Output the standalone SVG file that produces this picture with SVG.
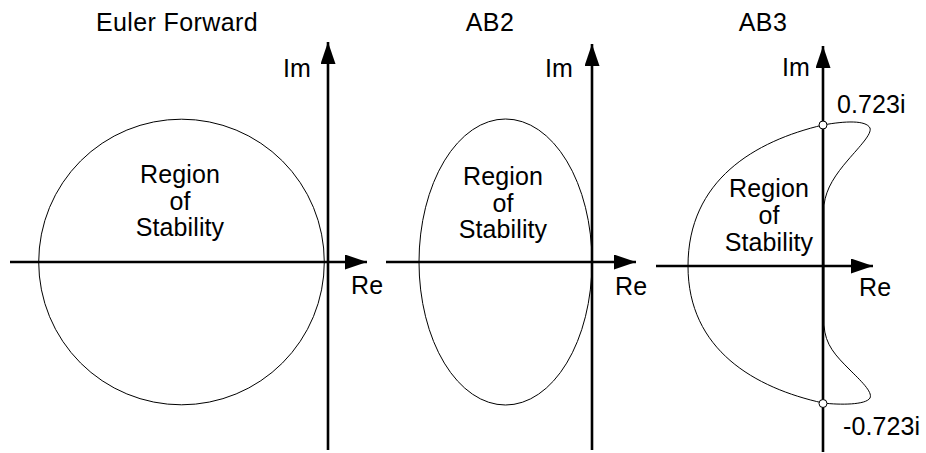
<svg xmlns="http://www.w3.org/2000/svg" width="926" height="453" viewBox="0 0 926 453">
<defs>
<style>
text{font-family:"Liberation Sans",Arial,sans-serif;font-size:25px;fill:#000;letter-spacing:0.1px}
.t{text-anchor:middle}
.title{letter-spacing:0.4px}
.axis{stroke:#000;stroke-width:2.6;fill:none}
.curve{stroke:#000;stroke-width:1;fill:none}
.dot{fill:#fff;stroke:#000;stroke-width:1}
</style>
<marker id="ah" markerUnits="userSpaceOnUse" markerWidth="24" markerHeight="16" refX="22" refY="7.5" orient="auto">
<path d="M0,0 L22,7.5 L0,15 Z" fill="#000"/>
</marker>
</defs>
<rect width="926" height="453" fill="#fff"/>

<g id="euler">
<text class="t title" x="177" y="31">Euler Forward</text>
<circle class="curve" cx="181.5" cy="262" r="142.8"/>
<g class="axes">
<line class="axis" x1="10" y1="262" x2="367" y2="262" marker-end="url(#ah)"/>
<line class="axis" x1="328" y1="450" x2="328" y2="42" marker-end="url(#ah)"/>
</g>
<text x="283" y="77">Im</text>
<text x="351" y="294">Re</text>
<text class="t" x="180" y="183">Region</text>
<text class="t" x="180" y="209.5">of</text>
<text class="t" x="180" y="236">Stability</text>
</g>

<g id="ab2">
<text class="t title" x="490" y="31">AB2</text>
<ellipse class="curve" cx="505.5" cy="262" rx="86.5" ry="143"/>
<g class="axes">
<line class="axis" x1="386" y1="262" x2="636" y2="262" marker-end="url(#ah)"/>
<line class="axis" x1="592" y1="450" x2="592" y2="44" marker-end="url(#ah)"/>
</g>
<text x="545" y="77">Im</text>
<text x="615" y="295">Re</text>
<text class="t" x="503" y="185">Region</text>
<text class="t" x="503" y="211.5">of</text>
<text class="t" x="503" y="238">Stability</text>
</g>

<g id="ab3">
<text class="t title" x="763" y="31">AB3</text>
<path class="curve" d="M823,125 C755,141 688,180 688,266 C688,350 755,388 823,403 C840,405 866,405 870,398 C873,392 860,380 850,370 C836,356 825,345 824,325 L824,205 C826,188 836,174 848,160 C860,146 872,134 870,128 C866,120 845,121 823,125 Z"/>
<g class="axes">
<line class="axis" x1="656" y1="266" x2="873" y2="266" marker-end="url(#ah)"/>
<line class="axis" x1="823" y1="452" x2="823" y2="46" marker-end="url(#ah)"/>
</g>
<circle class="dot" cx="823" cy="125" r="4"/>
<circle class="dot" cx="823" cy="403.5" r="4"/>
<text x="782" y="76">Im</text>
<text x="859" y="296">Re</text>
<text x="837" y="113">0.723i</text>
<text x="843" y="435">-0.723i</text>
<text class="t" x="769" y="197">Region</text>
<text class="t" x="769" y="224">of</text>
<text class="t" x="769" y="251">Stability</text>
</g>
</svg>
